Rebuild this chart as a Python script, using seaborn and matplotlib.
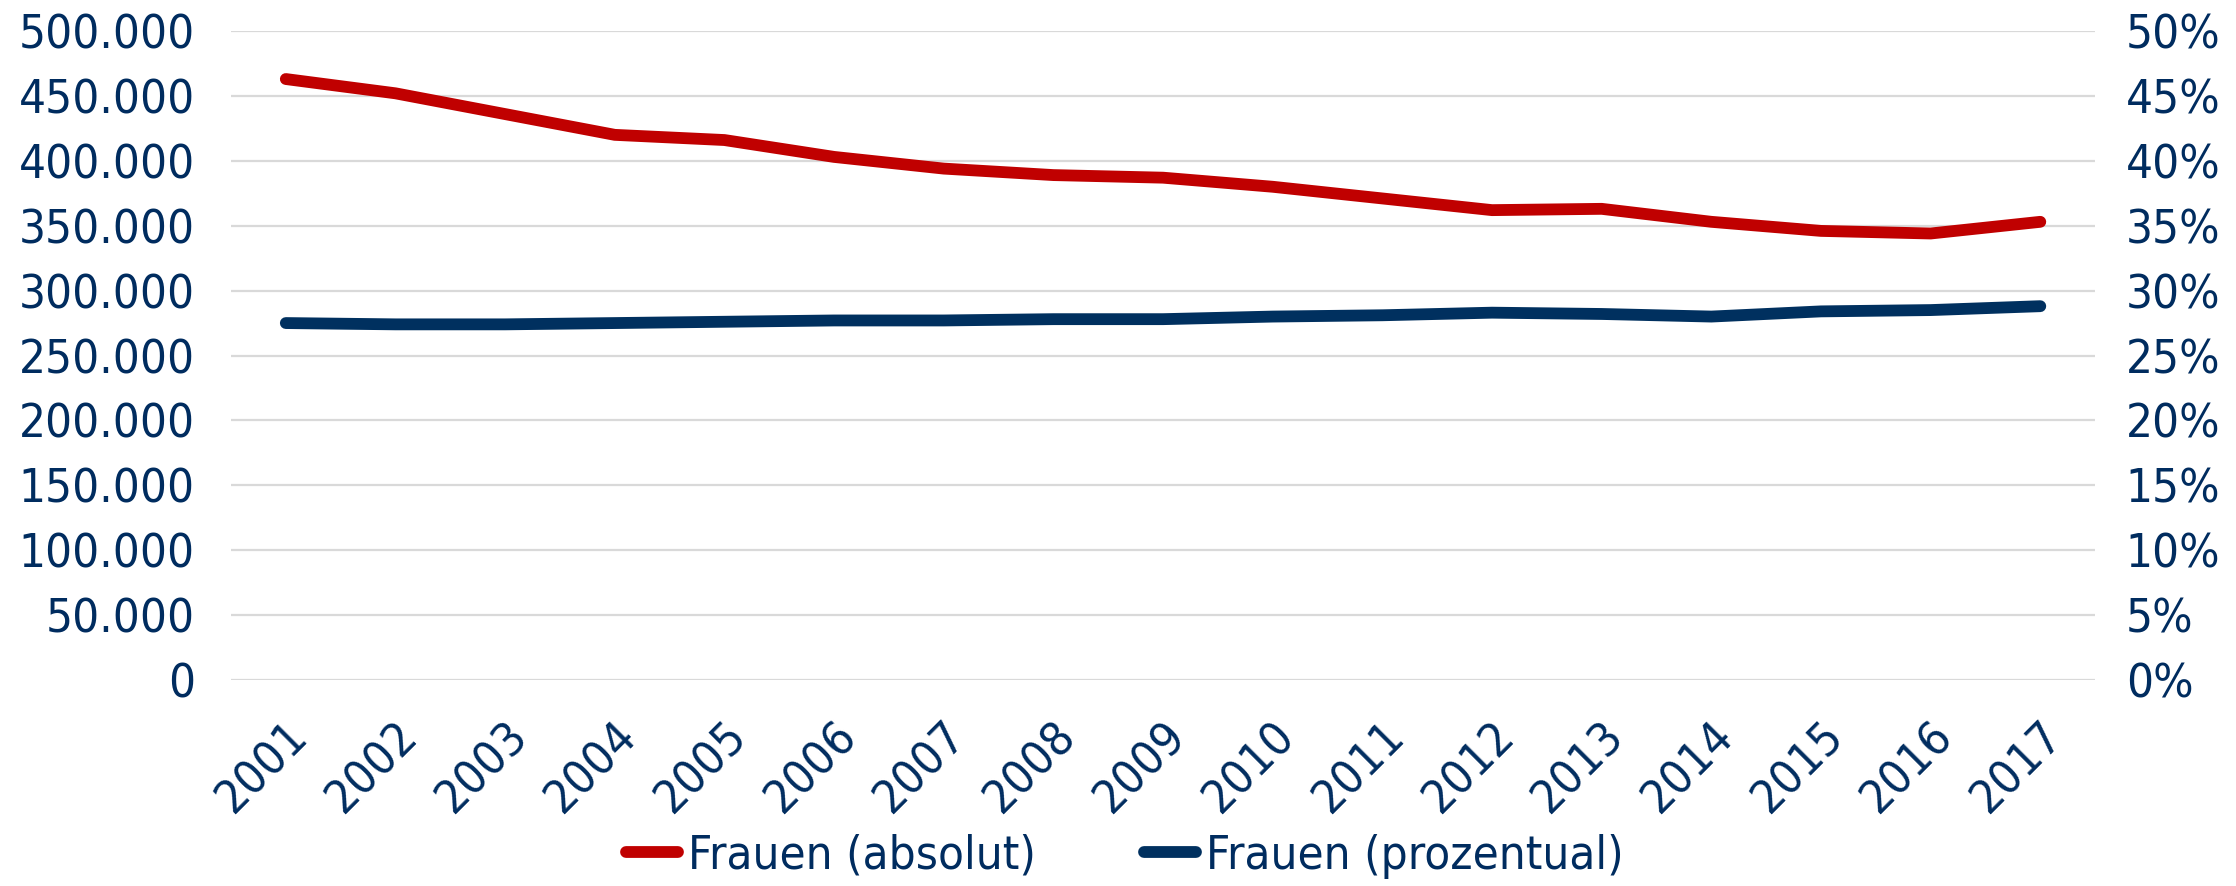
import numpy as np
import pandas as pd
import matplotlib
matplotlib.use('Agg')
import matplotlib.pyplot as plt
import seaborn as sns
from matplotlib.ticker import FuncFormatter

years = ['2001', '2002', '2003', '2004', '2005', '2006', '2007', '2008', '2009',
         '2010', '2011', '2012', '2013', '2014', '2015', '2016', '2017']
frauen_absolut = [463000, 452000, 436000, 420000, 416000, 403000, 394000, 389000, 387000,
                  380000, 371000, 362000, 363000, 353000, 346000, 344000, 353000]
frauen_prozent = [27.5, 27.4, 27.4, 27.5, 27.6, 27.7, 27.7, 27.8, 27.8,
                  28.0, 28.1, 28.3, 28.2, 28.0, 28.4, 28.5, 28.8]

df = pd.DataFrame({'Jahr': years, 'pos': np.arange(len(years)),
                   'absolut': frauen_absolut, 'prozent': frauen_prozent})

sns.set_style('white')
plt.rcParams['font.family'] = ['DejaVu Sans']
plt.rcParams['font.stretch'] = 'condensed'

navy = '#00305f'
red = '#c00000'
text_col = '#002c5f'
fs = 34

fig = plt.figure(figsize=(22.36, 8.86), dpi=100)
ax = fig.add_axes([0.1033, 0.2325, 0.8337, 0.7325])
ax2 = ax.twinx()

sns.lineplot(data=df, x='pos', y='absolut', ax=ax, color=red, linewidth=8.5,
             solid_capstyle='round', label='Frauen (absolut)', legend=False)
sns.lineplot(data=df, x='pos', y='prozent', ax=ax2, color=navy, linewidth=8.5,
             solid_capstyle='round', label='Frauen (prozentual)', legend=False)

ax.set_ylim(0, 500000)
ax.set_yticks(np.arange(0, 500001, 50000))
ax.yaxis.set_major_formatter(FuncFormatter(lambda v, p: f'{int(v):,}'.replace(',', '.')))
ax2.set_ylim(0, 50)
ax2.set_yticks(np.arange(0, 51, 5))
ax2.yaxis.set_major_formatter(FuncFormatter(lambda v, p: f'{int(v)}%'))

ax.set_xlim(-0.5, len(years) - 0.5)
ax.set_xticks(df['pos'])
ax.set_xticklabels(years, rotation=45, ha='right', rotation_mode='anchor')

ax.grid(axis='y', color='#d9d9d9', linewidth=1.6)
ax.set_axisbelow(True)
ax2.grid(False)
for a in (ax, ax2):
    for s in a.spines.values():
        s.set_visible(False)
    a.tick_params(length=0, labelsize=fs, labelcolor=text_col)
    a.set_xlabel('')
    a.set_ylabel('')
ax.tick_params(axis='y', pad=26)
ax2.tick_params(axis='y', pad=22)
ax.tick_params(axis='x', pad=24)

h1, l1 = ax.get_legend_handles_labels()
h2, l2 = ax2.get_legend_handles_labels()
leg = fig.legend(h1 + h2, l1 + l2, loc='lower center', bbox_to_anchor=(0.503, -0.04),
                 ncol=2, frameon=False, fontsize=fs, handlelength=1.1,
                 handletextpad=0.2, columnspacing=2.3)
for t in leg.get_texts():
    t.set_color(text_col)

fig.savefig('out.png', dpi=100)
